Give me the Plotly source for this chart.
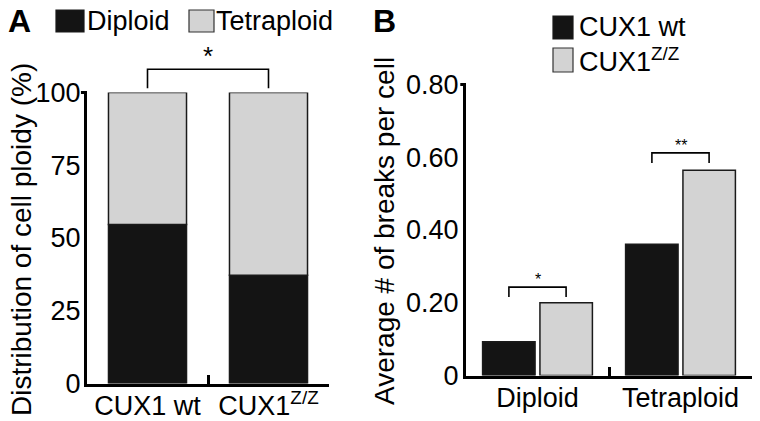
import plotly.graph_objects as go

W, H = 760, 421
OFF = 0

# ---- data ----
groups_a = ["CUX1 wt", "CUX1<sup>Z/Z</sup>"]
diploid_pct = [54.6, 37.2]
tetraploid_pct = [45.4, 62.8]

cats_b = ["Diploid", "Tetraploid"]
wt_breaks = [0.093, 0.361]
zz_breaks = [0.200, 0.564]

yticks_a = [0, 25, 50, 75, 100]
yticks_b = [0, 0.2, 0.4, 0.6, 0.8]
yticktext_b = ["0", "0.20", "0.40", "0.60", "0.80"]

BLACK = "#141414"
GRAY = "#d3d3d3"
EDGE = "#1a1a1a"
FONT = "Liberation Sans, Arial, sans-serif"

def px(x):
    return (x - OFF) / W

def py(y):
    return 1 - (y - OFF) / H

fig = go.Figure()

# Panel A: stacked via base
fig.add_trace(go.Bar(x=groups_a, y=diploid_pct, width=0.645,
                     marker=dict(color=BLACK, line=dict(color=EDGE, width=1.5)),
                     xaxis="x", yaxis="y", showlegend=False, name="Diploid"))
fig.add_trace(go.Bar(x=groups_a, y=tetraploid_pct, base=diploid_pct, width=0.645,
                     marker=dict(color=GRAY, line=dict(color=EDGE, width=1.5)),
                     xaxis="x", yaxis="y", showlegend=False, name="Tetraploid"))

# Panel B: grouped bars with explicit offsets
BW = 0.367
fig.add_trace(go.Bar(x=cats_b, y=wt_breaks, width=BW, offset=-0.384,
                     marker=dict(color=BLACK, line=dict(color=EDGE, width=1.5)),
                     xaxis="x2", yaxis="y2", showlegend=False, name="CUX1 wt"))
fig.add_trace(go.Bar(x=cats_b, y=zz_breaks, width=BW, offset=0.017,
                     marker=dict(color=GRAY, line=dict(color=EDGE, width=1.5)),
                     xaxis="x2", yaxis="y2", showlegend=False, name="CUX1 Z/Z"))

axis_common = dict(showline=True, linecolor="black", linewidth=3, showgrid=False,
                   zeroline=False, automargin=False,
                   tickfont=dict(family=FONT, size=27, color="black"))

fig.update_layout(
    template="none",
    width=W, height=H, margin=dict(l=0, r=0, t=0, b=0, pad=0),
    paper_bgcolor="white", plot_bgcolor="white", barmode="overlay",
    font=dict(family=FONT, color="black"),
    xaxis=dict(domain=[px(87), px(329)], anchor="y", type="category",
               ticks="inside", tickson="boundaries", ticklen=9, tickwidth=3,
               tickcolor="black", ticklabelstandoff=-4, **axis_common),
    yaxis=dict(domain=[py(383.5), py(92.5)], anchor="x", range=[0, 100],
               tickvals=yticks_a, ticks="", ticklabelstandoff=-2, **axis_common),
    xaxis2=dict(domain=[px(466), px(752)], anchor="y2", type="category",
                ticks="inside", tickson="boundaries", ticklen=9, tickwidth=3,
                tickcolor="black", ticklabelstandoff=-4, **axis_common),
    yaxis2=dict(domain=[py(375.5), py(84.5)], anchor="x2", range=[0, 0.8],
                tickvals=yticks_b, ticktext=yticktext_b, ticks="",
                ticklabelstandoff=-1, **axis_common),
)

shapes = []
# top tick caps on y axes
shapes.append(dict(type="line", xref="x domain", yref="y domain", x0=-0.025, x1=0, y0=1, y1=1,
                   line=dict(color="black", width=3)))
shapes.append(dict(type="line", xref="x2 domain", yref="y2 domain", x0=-0.02, x1=0, y0=1, y1=1,
                   line=dict(color="black", width=3)))

def bracket(xref, yref, x0, x1, ytop, ybot):
    return dict(type="path", xref=xref, yref=yref,
                path=f"M {x0},{ybot} L {x0},{ytop} L {x1},{ytop} L {x1},{ybot}",
                line=dict(color="black", width=1.6))

# significance brackets
n_a = len(groups_a)
ca0, ca1 = 0.5 / n_a, 1.5 / n_a  # category centres in domain fraction
shapes.append(bracket("x domain", "y domain", ca0, ca1, 1.08, 1.015))
shapes.append(bracket("x2", "y2", -0.2, 0.2, 0.243, 0.216))
shapes.append(bracket("x2", "y2", 0.8, 1.2, 0.612, 0.584))

# legend A squares
shapes.append(dict(type="rect", xref="paper", yref="paper", x0=px(56), x1=px(84), y0=py(32), y1=py(10),
                   fillcolor=BLACK, line=dict(color=EDGE, width=1.2)))
shapes.append(dict(type="rect", xref="paper", yref="paper", x0=px(189), x1=px(214), y0=py(32), y1=py(10),
                   fillcolor=GRAY, line=dict(color="#333", width=1.2)))
# legend B squares
shapes.append(dict(type="rect", xref="paper", yref="paper", x0=px(553), x1=px(573), y0=py(39), y1=py(16),
                   fillcolor=BLACK, line=dict(color=EDGE, width=1.2)))
shapes.append(dict(type="rect", xref="paper", yref="paper", x0=px(553), x1=px(573), y0=py(72), y1=py(48),
                   fillcolor=GRAY, line=dict(color="#333", width=1.2)))
fig.update_layout(shapes=shapes)

ann = []
def text(x, y, t, size, xanchor="left", angle=0, bold=False, xref="paper", yref="paper"):
    ann.append(dict(x=x, y=y, xref=xref, yref=yref, text=(f"<b>{t}</b>" if bold else t),
                    showarrow=False, xanchor=xanchor, yanchor="middle", textangle=angle,
                    borderpad=0,
                    font=dict(family=FONT, size=size, color="black")))

text(px(19), py(21), "A", 32, xanchor="center", bold=True)
text(px(384), py(21), "B", 32, xanchor="center", bold=True)
text(px(86), py(21), "Diploid", 27)
text(px(215), py(21), "Tetraploid", 27)
text(px(578), py(27), "CUX1 wt", 27)
text(px(578), py(60), "CUX1<sup>Z/Z</sup>", 27)
text(px(21), py(240), "Distribution of cell ploidy (%)", 28, xanchor="center", angle=-90)
text(px(384), py(231), "Average # of breaks per cell", 28, xanchor="center", angle=-90)
# stars
text(0.5, 1.124, "*", 26, xanchor="center", xref="x domain", yref="y domain")
text(0, 0.265, "*", 16, xanchor="center", xref="x2", yref="y2")
text(1, 0.632, "**", 16, xanchor="center", xref="x2", yref="y2")
fig.update_layout(annotations=ann)

fig.write_html("out.html", config={"displayModeBar": False},
               post_script="document.body.style.margin='0';document.body.style.overflow='hidden';")
